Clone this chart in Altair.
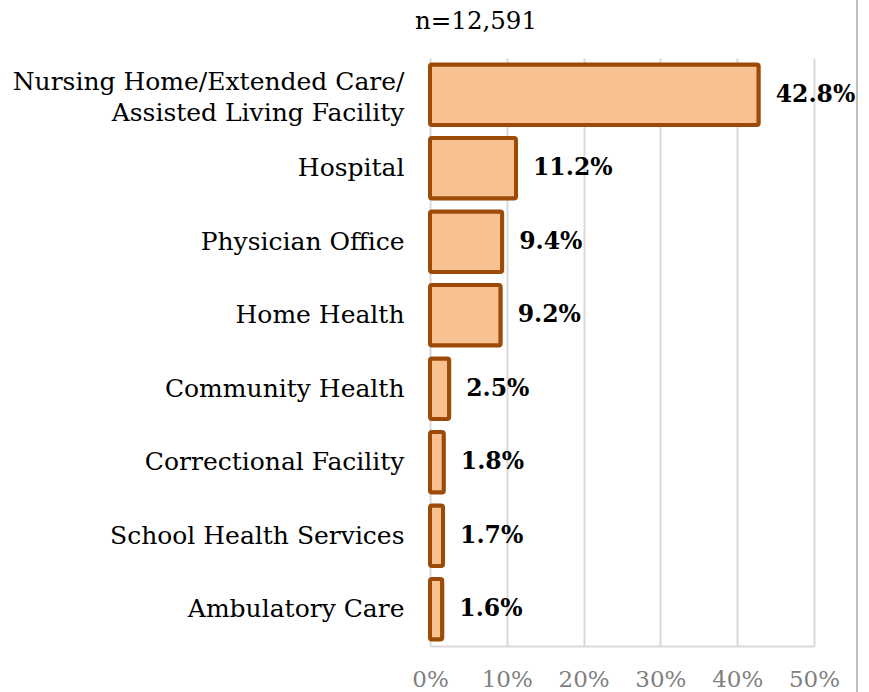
import altair as alt
import pandas as pd

categories = [
    "Nursing Home/Extended Care/|Assisted Living Facility",
    "Hospital",
    "Physician Office",
    "Home Health",
    "Community Health",
    "Correctional Facility",
    "School Health Services",
    "Ambulatory Care",
]
values = [42.8, 11.2, 9.4, 9.2, 2.5, 1.8, 1.7, 1.6]
x_ticks = [0, 10, 20, 30, 40, 50]
subtitle = "n=12,591"

df = pd.DataFrame({"cat": categories, "val": values})
df["lbl"] = [f"{v:.1f}%" for v in values]

FONT = "DejaVu Serif"

y_enc = alt.Y(
    "cat:N",
    sort=categories,
    title=None,
    scale=alt.Scale(paddingInner=0.18, paddingOuter=0.09),
    axis=alt.Axis(
        labelExpr="split(datum.label, '|')",
        labelFont=FONT,
        labelFontSize=25,
        labelColor="#000000",
        labelPadding=26,
        labelLimit=500,
        labelLineHeight=31,
        labelOffset={"condition": {"test": "indexof(datum.value, '|') >= 0", "value": -13}, "value": 0},
        ticks=False,
        domain=False,
    ),
)

x_enc = alt.X(
    "val:Q",
    title=None,
    scale=alt.Scale(domain=[0, 50], nice=False),
    axis=alt.Axis(
        values=x_ticks,
        labelExpr="datum.value + '%'",
        labelFont=FONT,
        labelFontSize=23,
        labelColor="#7f7f7f",
        labelPadding=22,
        labelFlush=False,
        ticks=False,
        domain=True,
        domainColor="#d9d9d9",
        domainWidth=2,
        grid=True,
        gridColor="#d9d9d9",
        gridWidth=2,
    ),
)

base = alt.Chart(df)

bars = base.mark_bar(
    fill="#f8c191",
    stroke="#9c4a06",
    strokeWidth=4,
    cornerRadius=2,
).encode(x=x_enc, y=y_enc)

labels = base.mark_text(
    align="left",
    baseline="middle",
    dx=17,
    font=FONT,
    fontSize=23.5,
    fontWeight="bold",
    color="#000000",
).encode(x="val:Q", y=alt.Y("cat:N", sort=categories), text="lbl:N")

border = base.mark_rule(color="#bfbfbf", strokeWidth=2, clip=False).encode(
    x=alt.value(427), y=alt.value(-58), y2=alt.value(640)
)

title_txt = alt.Chart(pd.DataFrame({"t": [subtitle]})).mark_text(
    align="center",
    baseline="middle",
    font=FONT,
    fontSize=24.5,
    color="#000000",
    clip=False,
).encode(x=alt.value(46), y=alt.value(-36), text="t:N")

chart = (
    alt.layer(bars, labels, border, title_txt)
    .properties(
        width=384,
        height=588,
        autosize=alt.AutoSizeParams(type="none"),
        padding={"left": 430, "top": 58, "right": 55, "bottom": 46},
    )
    .configure_view(stroke=None)
    .configure_axis(gridDash=[])
)

chart.save("out.html", embed_options={"renderer": "svg", "actions": False})
